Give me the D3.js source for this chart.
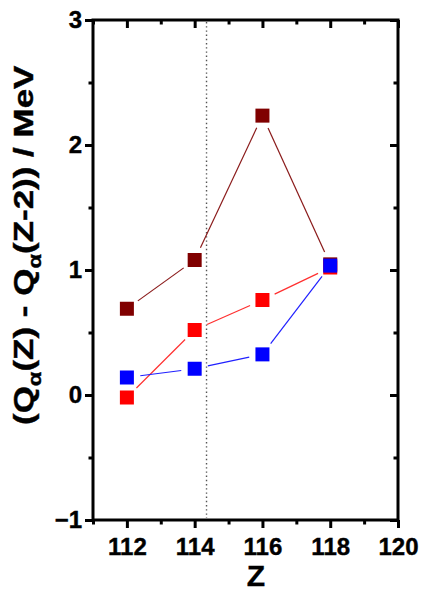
<!DOCTYPE html>
<html>
<head>
<meta charset="utf-8">
<script src="https://cdn.jsdelivr.net/npm/d3@7/dist/d3.min.js"></script>
<style>
  html, body { margin: 0; padding: 0; background: #fff; }
  svg { display: block; font-family: "Liberation Sans", Arial, sans-serif; font-weight: bold; }
</style>
</head>
<body>
<svg id="chart" width="433" height="593"></svg>
<script>
// Proton number Z and the Q-alpha differences for the three series
const zValues = [112, 114, 116, 118];
const seriesDarkRed = [0.69, 1.08, 2.235, 1.045];
const seriesRed = [-0.02, 0.52, 0.76, 1.02];
const seriesBlue = [0.14, 0.21, 0.325, 1.035];
const seriesColors = ["#800000", "#ff0000", "#0000ff"];
const lineColors = ["#8a1a1a", "#ff3030", "#2020ff"];

const xMajorTicks = [112, 114, 116, 118, 120];
const xMinorTicks = [111, 113, 115, 117, 119];
const yMajorTicks = [-1, 0, 1, 2, 3];
const yMinorTicks = [-0.5, 0.5, 1.5, 2.5];
const markerLineZ = 114.35;

const svg = d3.select("#chart");
const plotLeft = 93, plotRight = 398, plotTop = 20, plotBottom = 520;

const x = d3.scaleLinear().domain([111, 120]).range([plotLeft, plotRight]);
const y = d3.scaleLinear().domain([-1, 3]).range([plotBottom, plotTop]);

const axisColor = "#000";
const axisWidth = 3;

function styleAxis(g) {
  g.select(".domain").remove();
  g.selectAll(".tick line").attr("stroke", axisColor).attr("stroke-width", axisWidth);
  g.selectAll(".tick text").attr("fill", "#000").attr("font-size", 24).attr("font-weight", "bold")
    .attr("font-family", "Liberation Sans, Arial, sans-serif")
    .attr("stroke", "#000").attr("stroke-width", 0.4);
}

// bottom axis: major labelled ticks (outward) and minor ticks
svg.append("g").attr("transform", `translate(0,${plotBottom})`)
  .call(d3.axisBottom(x).tickValues(xMajorTicks).tickSize(8).tickPadding(10).tickFormat(d3.format("d")))
  .call(styleAxis)
  .call(g => g.selectAll(".tick text").attr("dy", "0.71em"));
svg.append("g").attr("transform", `translate(0,${plotBottom})`)
  .call(d3.axisBottom(x).tickValues(xMinorTicks).tickSize(4.5).tickFormat(""))
  .call(styleAxis);

// top axis: inward ticks, no labels
svg.append("g").attr("transform", `translate(0,${plotTop})`)
  .call(d3.axisBottom(x).tickValues(xMajorTicks).tickSize(8).tickFormat(""))
  .call(styleAxis);
svg.append("g").attr("transform", `translate(0,${plotTop})`)
  .call(d3.axisBottom(x).tickValues(xMinorTicks).tickSize(4.5).tickFormat(""))
  .call(styleAxis);

// left axis: outward ticks with labels
svg.append("g").attr("transform", `translate(${plotLeft},0)`)
  .call(d3.axisLeft(y).tickValues(yMajorTicks).tickSize(8).tickPadding(3).tickFormat(d3.format("d")))
  .call(styleAxis);
svg.append("g").attr("transform", `translate(${plotLeft},0)`)
  .call(d3.axisLeft(y).tickValues(yMinorTicks).tickSize(4.5).tickFormat(""))
  .call(styleAxis);

// right axis: inward ticks
svg.append("g").attr("transform", `translate(${plotRight},0)`)
  .call(d3.axisLeft(y).tickValues(yMajorTicks).tickSize(8).tickFormat(""))
  .call(styleAxis);
svg.append("g").attr("transform", `translate(${plotRight},0)`)
  .call(d3.axisLeft(y).tickValues(yMinorTicks).tickSize(4.5).tickFormat(""))
  .call(styleAxis);

// plot frame
svg.append("rect")
  .attr("x", plotLeft).attr("y", plotTop)
  .attr("width", plotRight - plotLeft).attr("height", plotBottom - plotTop)
  .attr("fill", "none").attr("stroke", axisColor).attr("stroke-width", axisWidth);

// vertical dotted reference line
svg.append("line")
  .attr("x1", x(markerLineZ)).attr("x2", x(markerLineZ))
  .attr("y1", plotTop + 2).attr("y2", plotBottom - 2)
  .attr("stroke", "#555").attr("stroke-width", 1.4)
  .attr("stroke-dasharray", "1.4,2.8");

// series: line segments with gaps around the markers, then square markers
const allSeries = [seriesDarkRed, seriesRed, seriesBlue];
const gap = 13.5;
const markerSize = 14;

allSeries.forEach((vals, si) => {
  const pts = zValues.map((z, i) => [x(z), y(vals[i])]);
  const g = svg.append("g");
  for (let i = 0; i < pts.length - 1; i++) {
    const [x1, y1] = pts[i], [x2, y2] = pts[i + 1];
    const len = Math.hypot(x2 - x1, y2 - y1);
    if (len <= 2 * gap) continue;
    const ux = (x2 - x1) / len, uy = (y2 - y1) / len;
    g.append("line")
      .attr("x1", x1 + ux * gap).attr("y1", y1 + uy * gap)
      .attr("x2", x2 - ux * gap).attr("y2", y2 - uy * gap)
      .attr("stroke", lineColors[si]).attr("stroke-width", 1.2);
  }
  g.selectAll("rect.pt").data(pts).enter().append("rect")
    .attr("class", "pt")
    .attr("x", d => d[0] - markerSize / 2).attr("y", d => d[1] - markerSize / 2)
    .attr("width", markerSize).attr("height", markerSize)
    .attr("fill", seriesColors[si]);
});

// x axis title
svg.append("text")
  .attr("x", 256).attr("y", 586)
  .attr("text-anchor", "middle")
  .attr("font-size", 30).attr("font-weight", "bold")
  .attr("stroke", "#000").attr("stroke-width", 0.4)
  .text("Z");

// y axis title with alpha subscripts
const yTitle = svg.append("g");
const t = yTitle.append("text").attr("font-size", 28).attr("font-weight", "bold")
  .attr("stroke", "#000").attr("stroke-width", 0.4);
t.append("tspan").text("(Q");
t.append("tspan").attr("font-size", 19).attr("dy", 8).text("α");
t.append("tspan").attr("dy", -8).text("(Z) - Q");
t.append("tspan").attr("font-size", 19).attr("dy", 8).text("α");
t.append("tspan").attr("dy", -8).text("(Z-2)) / MeV");
const w = t.node().getBBox().width;
const targetLen = 360;
t.attr("x", -w / 2);
yTitle.attr("transform", `translate(33,245) rotate(-90) scale(${targetLen / w},1)`);
</script>
</body>
</html>
